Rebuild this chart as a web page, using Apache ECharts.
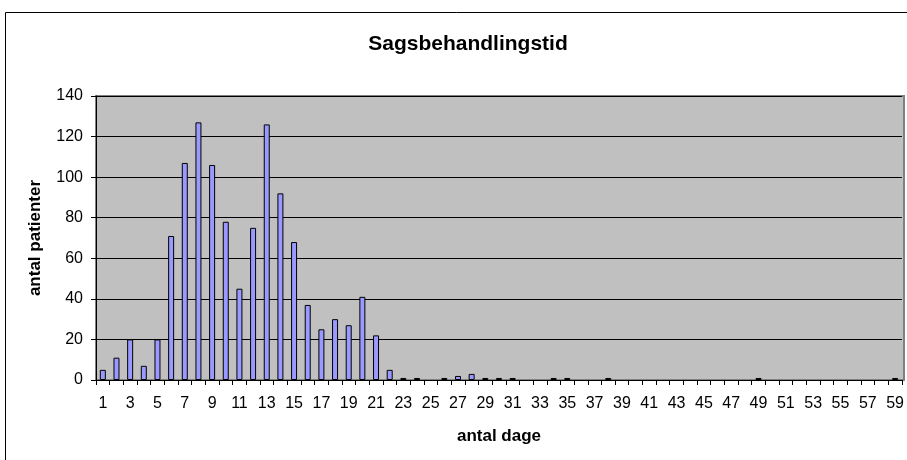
<!DOCTYPE html>
<html>
<head>
<meta charset="utf-8">
<script src="https://cdn.jsdelivr.net/npm/echarts@6/dist/echarts.min.js"></script>
<style>
html,body{margin:0;padding:0;background:#fff;}
#c{width:907px;height:460px;}
</style>
</head>
<body>
<div id="c"></div>
<script>
const categories = [];
for (let d = 1; d <= 59; d++) categories.push(String(d));
const patients = [5,11,20,7,20,71,107,127,106,78,45,75,126,92,68,37,25,30,27,41,22,5,1,1,0,1,2,3,1,1,1,0,0,1,1,0,0,1,0,0,0,0,0,0,0,0,0,0,1,0,0,0,0,0,0,0,0,0,1];
const yTicks = [0,20,40,60,80,100,120,140];

const chart = echarts.init(document.getElementById('c'), null, {renderer:'canvas'});
const font = 'Liberation Sans, Arial, sans-serif';
chart.setOption({
  animation:false,
  backgroundColor:'#ffffff',
  title:{
    text:'Sagsbehandlingstid', left:463, top:29, textAlign:'center',
    textStyle:{fontFamily:font, fontSize:21, fontWeight:'bold', color:'#000'}
  },
  graphic:[{
    type:'rect', shape:{x:5.5, y:12.5, width:920, height:460},
    style:{fill:'none', stroke:'#000', lineWidth:1}, silent:true, z:-1
  },{
    type:'rect', shape:{x:96, y:96, width:808, height:284},
    style:{fill:'#c0c0c0', stroke:'#808080', lineWidth:2}, silent:true, z:-1
  }],
  grid:{left:96, top:96, right:3, bottom:80, containLabel:false},
  xAxis:{
    type:'category', data:categories, boundaryGap:true,
    name:'antal dage', nameLocation:'middle', nameGap:48,
    nameTextStyle:{fontFamily:font, fontSize:17, fontWeight:'bold', color:'#000'},
    axisLine:{lineStyle:{color:'#000', width:1}},
    axisTick:{show:true, alignWithLabel:false, interval:0, length:5, lineStyle:{color:'#000'}},
    axisLabel:{interval:1, fontFamily:font, fontSize:16, color:'#000', margin:16},
    splitLine:{show:false}
  },
  yAxis:{
    type:'value', min:0, max:140, interval:20,
    name:'antal patienter', nameLocation:'middle', nameGap:52, nameRotate:90,
    nameTextStyle:{fontFamily:font, fontSize:17, fontWeight:'bold', color:'#000'},
    axisLine:{show:true, lineStyle:{color:'#000', width:1}},
    axisTick:{show:true, length:5, lineStyle:{color:'#000'}},
    axisLabel:{fontFamily:font, fontSize:16, color:'#000', margin:13,
      formatter:function(v){ return yTicks.indexOf(v) >= 0 ? String(v) : ''; }},
    splitLine:{show:true, lineStyle:{color:'#000', width:1}}
  },
  series:[{
    type:'bar', data:patients.map(function(v){ return v === 0 ? '-' : v; }), barWidth:6,
    itemStyle:{color:'#9999ff', borderColor:'#000', borderWidth:1}
  }]
});
</script>
</body>
</html>
